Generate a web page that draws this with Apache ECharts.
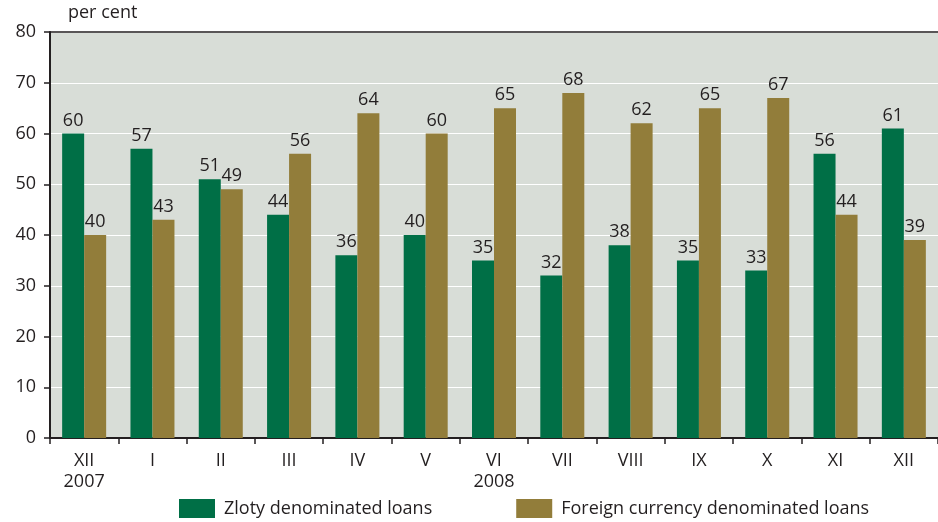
<!DOCTYPE html>
<html>
<head>
<meta charset="utf-8">
<script src="https://cdn.jsdelivr.net/npm/echarts@6/dist/echarts.min.js"></script>
<style>
  html, body { margin: 0; padding: 0; background: #ffffff; }
  #chart { width: 938px; height: 522px; }
</style>
</head>
<body>
<div id="chart"></div>
<script>
// Month labels (Roman numerals) with year under the first and mid-year month
const months = ['XII\n2007', 'I', 'II', 'III', 'IV', 'V', 'VI\n2008', 'VII', 'VIII', 'IX', 'X', 'XI', 'XII'];
// Share of new loans, per cent
const zlotyLoans = [60, 57, 51, 44, 36, 40, 35, 32, 38, 35, 33, 56, 61];
const foreignLoans = [40, 43, 49, 56, 64, 60, 65, 68, 62, 65, 67, 44, 39];
const yTicks = { min: 0, max: 80, interval: 10 };

const textColor = '#231f20';
const fontFamily = '"Open Sans", "Noto Sans", sans-serif';

const chart = echarts.init(document.getElementById('chart'), null, { renderer: 'canvas' });

const labelStyle = {
  show: true,
  position: 'top',
  distance: 4,
  color: textColor,
  fontSize: 18,
  fontFamily: fontFamily
};

chart.setOption({
  animation: false,
  backgroundColor: '#ffffff',
  textStyle: { fontFamily: fontFamily, color: textColor },
  grid: {
    left: 50, right: 0, top: 32, bottom: 84,
    show: true,
    backgroundColor: '#d8ddd7',
    borderWidth: 0
  },
  title: {
    text: 'per cent',
    left: 68, top: 4, padding: 0,
    textStyle: { fontSize: 18, fontWeight: 'normal', color: textColor, fontFamily: fontFamily }
  },
  legend: {
    bottom: 4,
    left: 179,
    padding: 0,
    itemWidth: 36,
    itemHeight: 19,
    itemGap: 84,
    icon: 'rect',
    textStyle: { fontSize: 18, color: textColor, fontFamily: fontFamily, padding: [0, 0, 0, 4] },
    data: ['Zloty denominated loans', 'Foreign currency denominated loans']
  },
  xAxis: [
    {
      type: 'category',
      data: months,
      position: 'bottom',
      axisLine: { show: true, lineStyle: { color: textColor, width: 2 } },
      axisTick: { show: true, length: 6, lineStyle: { color: textColor, width: 1.5 } },
      axisLabel: { color: textColor, fontSize: 18, margin: 12, lineHeight: 21, fontFamily: fontFamily },
      splitLine: { show: false }
    },
    {
      type: 'category',
      data: months,
      position: 'top',
      axisLine: { show: true, lineStyle: { color: textColor, width: 1.5 } },
      axisTick: { show: false },
      axisLabel: { show: false },
      splitLine: { show: false }
    }
  ],
  yAxis: {
    type: 'value',
    min: yTicks.min,
    max: yTicks.max,
    interval: yTicks.interval,
    axisLine: { show: true, lineStyle: { color: textColor, width: 2 } },
    axisTick: { show: true, length: 6, lineStyle: { color: textColor, width: 1.5 } },
    axisLabel: { color: textColor, fontSize: 18, margin: 14, fontFamily: fontFamily },
    splitLine: { show: true, lineStyle: { color: '#ffffff', width: 1.2 } }
  },
  series: [
    {
      name: 'Zloty denominated loans',
      type: 'bar',
      data: zlotyLoans,
      barWidth: 22,
      barGap: '0%',
      itemStyle: { color: '#006f46' },
      label: labelStyle
    },
    {
      name: 'Foreign currency denominated loans',
      type: 'bar',
      data: foreignLoans,
      barWidth: 22,
      barGap: '0%',
      itemStyle: { color: '#927d3a' },
      label: labelStyle
    }
  ]
});
</script>
</body>
</html>
